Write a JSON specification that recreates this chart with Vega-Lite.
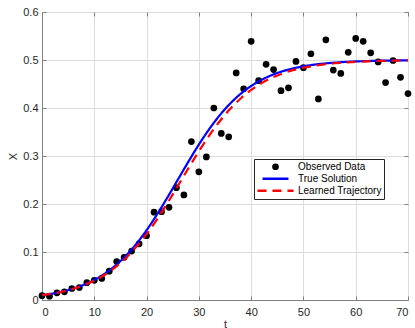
{
  "$schema": "https://vega.github.io/schema/vega-lite/v6.json",
  "width": 366,
  "height": 288,
  "autosize": {"type": "none"},
  "padding": {"left": 42, "top": 12, "right": 7, "bottom": 28},
  "background": "white",
  "config": {
    "font": "Liberation Sans",
    "view": {"stroke": "#808080", "strokeWidth": 1},
    "axis": {"labelFont": "Liberation Sans", "titleFont": "Liberation Sans"}
  },
  "datasets": {
    "obs": [
      {"t": 0, "x": 0.009, "series": "Observed Data"},
      {"t": 1.43, "x": 0.008, "series": "Observed Data"},
      {"t": 2.86, "x": 0.015, "series": "Observed Data"},
      {"t": 4.29, "x": 0.017, "series": "Observed Data"},
      {"t": 5.71, "x": 0.024, "series": "Observed Data"},
      {"t": 7.14, "x": 0.026, "series": "Observed Data"},
      {"t": 8.57, "x": 0.036, "series": "Observed Data"},
      {"t": 10, "x": 0.041, "series": "Observed Data"},
      {"t": 11.43, "x": 0.045, "series": "Observed Data"},
      {"t": 12.86, "x": 0.06, "series": "Observed Data"},
      {"t": 14.29, "x": 0.08, "series": "Observed Data"},
      {"t": 15.71, "x": 0.089, "series": "Observed Data"},
      {"t": 17.14, "x": 0.102, "series": "Observed Data"},
      {"t": 18.57, "x": 0.117, "series": "Observed Data"},
      {"t": 20, "x": 0.134, "series": "Observed Data"},
      {"t": 21.43, "x": 0.183, "series": "Observed Data"},
      {"t": 22.86, "x": 0.184, "series": "Observed Data"},
      {"t": 24.29, "x": 0.193, "series": "Observed Data"},
      {"t": 25.71, "x": 0.234, "series": "Observed Data"},
      {"t": 27.14, "x": 0.219, "series": "Observed Data"},
      {"t": 28.57, "x": 0.33, "series": "Observed Data"},
      {"t": 30, "x": 0.267, "series": "Observed Data"},
      {"t": 31.43, "x": 0.298, "series": "Observed Data"},
      {"t": 32.86, "x": 0.4, "series": "Observed Data"},
      {"t": 34.29, "x": 0.347, "series": "Observed Data"},
      {"t": 35.71, "x": 0.34, "series": "Observed Data"},
      {"t": 37.14, "x": 0.473, "series": "Observed Data"},
      {"t": 38.57, "x": 0.44, "series": "Observed Data"},
      {"t": 40, "x": 0.539, "series": "Observed Data"},
      {"t": 41.43, "x": 0.457, "series": "Observed Data"},
      {"t": 42.86, "x": 0.491, "series": "Observed Data"},
      {"t": 44.29, "x": 0.48, "series": "Observed Data"},
      {"t": 45.71, "x": 0.436, "series": "Observed Data"},
      {"t": 47.14, "x": 0.442, "series": "Observed Data"},
      {"t": 48.57, "x": 0.497, "series": "Observed Data"},
      {"t": 50, "x": 0.484, "series": "Observed Data"},
      {"t": 51.43, "x": 0.513, "series": "Observed Data"},
      {"t": 52.86, "x": 0.419, "series": "Observed Data"},
      {"t": 54.29, "x": 0.542, "series": "Observed Data"},
      {"t": 55.71, "x": 0.479, "series": "Observed Data"},
      {"t": 57.14, "x": 0.472, "series": "Observed Data"},
      {"t": 58.57, "x": 0.516, "series": "Observed Data"},
      {"t": 60, "x": 0.545, "series": "Observed Data"},
      {"t": 61.43, "x": 0.539, "series": "Observed Data"},
      {"t": 62.86, "x": 0.515, "series": "Observed Data"},
      {"t": 64.29, "x": 0.496, "series": "Observed Data"},
      {"t": 65.71, "x": 0.453, "series": "Observed Data"},
      {"t": 67.14, "x": 0.499, "series": "Observed Data"},
      {"t": 68.57, "x": 0.464, "series": "Observed Data"},
      {"t": 70, "x": 0.43, "series": "Observed Data"}
    ],
    "truth": [
      {"t": 0, "x": 0.01, "series": "True Solution"},
      {"t": 2, "x": 0.01341, "series": "True Solution"},
      {"t": 4, "x": 0.01793, "series": "True Solution"},
      {"t": 6, "x": 0.0239, "series": "True Solution"},
      {"t": 8, "x": 0.03173, "series": "True Solution"},
      {"t": 10, "x": 0.04191, "series": "True Solution"},
      {"t": 12, "x": 0.05495, "series": "True Solution"},
      {"t": 14, "x": 0.07142, "series": "True Solution"},
      {"t": 16, "x": 0.09183, "series": "True Solution"},
      {"t": 18, "x": 0.1165, "series": "True Solution"},
      {"t": 20, "x": 0.1454, "series": "True Solution"},
      {"t": 22, "x": 0.1781, "series": "True Solution"},
      {"t": 24, "x": 0.2138, "series": "True Solution"},
      {"t": 26, "x": 0.251, "series": "True Solution"},
      {"t": 28, "x": 0.2882, "series": "True Solution"},
      {"t": 30, "x": 0.3238, "series": "True Solution"},
      {"t": 32, "x": 0.3563, "series": "True Solution"},
      {"t": 34, "x": 0.385, "series": "True Solution"},
      {"t": 36, "x": 0.4094, "series": "True Solution"},
      {"t": 38, "x": 0.4296, "series": "True Solution"},
      {"t": 40, "x": 0.4458, "series": "True Solution"},
      {"t": 42, "x": 0.4587, "series": "True Solution"},
      {"t": 44, "x": 0.4688, "series": "True Solution"},
      {"t": 46, "x": 0.4765, "series": "True Solution"},
      {"t": 48, "x": 0.4824, "series": "True Solution"},
      {"t": 50, "x": 0.4868, "series": "True Solution"},
      {"t": 52, "x": 0.4902, "series": "True Solution"},
      {"t": 54, "x": 0.4927, "series": "True Solution"},
      {"t": 56, "x": 0.4945, "series": "True Solution"},
      {"t": 58, "x": 0.496, "series": "True Solution"},
      {"t": 60, "x": 0.497, "series": "True Solution"},
      {"t": 62, "x": 0.4978, "series": "True Solution"},
      {"t": 64, "x": 0.4983, "series": "True Solution"},
      {"t": 66, "x": 0.4988, "series": "True Solution"},
      {"t": 68, "x": 0.4991, "series": "True Solution"},
      {"t": 70, "x": 0.4993, "series": "True Solution"}
    ],
    "learned": [
      {"t": 0, "x": 0.01, "series": "Learned Trajectory"},
      {"t": 2, "x": 0.0133, "series": "Learned Trajectory"},
      {"t": 4, "x": 0.01765, "series": "Learned Trajectory"},
      {"t": 6, "x": 0.02336, "series": "Learned Trajectory"},
      {"t": 8, "x": 0.03079, "series": "Learned Trajectory"},
      {"t": 10, "x": 0.04039, "series": "Learned Trajectory"},
      {"t": 12, "x": 0.05265, "series": "Learned Trajectory"},
      {"t": 14, "x": 0.06807, "series": "Learned Trajectory"},
      {"t": 16, "x": 0.08712, "series": "Learned Trajectory"},
      {"t": 18, "x": 0.1102, "series": "Learned Trajectory"},
      {"t": 20, "x": 0.1373, "series": "Learned Trajectory"},
      {"t": 22, "x": 0.1681, "series": "Learned Trajectory"},
      {"t": 24, "x": 0.2021, "series": "Learned Trajectory"},
      {"t": 26, "x": 0.238, "series": "Learned Trajectory"},
      {"t": 28, "x": 0.2745, "series": "Learned Trajectory"},
      {"t": 30, "x": 0.3098, "series": "Learned Trajectory"},
      {"t": 32, "x": 0.3429, "series": "Learned Trajectory"},
      {"t": 34, "x": 0.3725, "series": "Learned Trajectory"},
      {"t": 36, "x": 0.3982, "series": "Learned Trajectory"},
      {"t": 38, "x": 0.4199, "series": "Learned Trajectory"},
      {"t": 40, "x": 0.4376, "series": "Learned Trajectory"},
      {"t": 42, "x": 0.4519, "series": "Learned Trajectory"},
      {"t": 44, "x": 0.4632, "series": "Learned Trajectory"},
      {"t": 46, "x": 0.472, "series": "Learned Trajectory"},
      {"t": 48, "x": 0.4788, "series": "Learned Trajectory"},
      {"t": 50, "x": 0.484, "series": "Learned Trajectory"},
      {"t": 52, "x": 0.4879, "series": "Learned Trajectory"},
      {"t": 54, "x": 0.4909, "series": "Learned Trajectory"},
      {"t": 56, "x": 0.4932, "series": "Learned Trajectory"},
      {"t": 58, "x": 0.4949, "series": "Learned Trajectory"},
      {"t": 60, "x": 0.4962, "series": "Learned Trajectory"},
      {"t": 62, "x": 0.4971, "series": "Learned Trajectory"},
      {"t": 64, "x": 0.4979, "series": "Learned Trajectory"},
      {"t": 66, "x": 0.4984, "series": "Learned Trajectory"},
      {"t": 68, "x": 0.4988, "series": "Learned Trajectory"},
      {"t": 70, "x": 0.4991, "series": "Learned Trajectory"}
    ]
  },
  "layer": [
    {
      "data": {"name": "obs"},
      "mark": {"type": "point", "filled": true, "opacity": 1},
      "encoding": {
        "x": {
          "field": "t", "type": "quantitative",
          "scale": {"domain": [0, 70], "nice": false, "zero": false},
          "axis": {
            "orient": "bottom", "values": [0, 10, 20, 30, 40, 50, 60, 70], "format": "d",
            "grid": true, "gridColor": "#dcdcdc", "gridWidth": 1,
            "tickSize": -4, "tickColor": "#808080", "domainColor": "#808080",
            "labelColor": "#262626", "labelFontSize": 11, "labelPadding": 10,
            "title": "t", "titleFontSize": 11, "titleFontWeight": "normal", "titleColor": "#262626", "titlePadding": 1
          }
        },
        "y": {
          "field": "x", "type": "quantitative",
          "scale": {"domain": [0, 0.6], "nice": false},
          "axis": {
            "orient": "left", "values": [0, 0.1, 0.2, 0.3, 0.4, 0.5, 0.6],
            "labelExpr": "datum.value == 0 ? '0' : format(datum.value, '.1f')",
            "grid": true, "gridColor": "#dcdcdc", "gridWidth": 1,
            "tickSize": -4, "tickColor": "#808080", "domainColor": "#808080",
            "labelColor": "#262626", "labelFontSize": 11, "labelPadding": 8,
            "title": "X", "titleFontSize": 11, "titleFontWeight": "normal", "titleColor": "#262626", "titlePadding": 4
          }
        },
        "fill": {
          "field": "series", "type": "nominal",
          "scale": {"domain": ["Observed Data", "True Solution", "Learned Trajectory"], "range": ["#000000", "#0000ff", "#ff0000"]},
          "legend": {
            "orient": "none", "legendX": 212, "legendY": 147, "title": null, "direction": "vertical",
            "fillColor": "white", "strokeColor": "#262626", "padding": 2,
            "labelFontSize": 10, "labelColor": "#000000", "labelOffset": 3, "labelFont": "Liberation Sans",
            "clipHeight": 11.5, "rowPadding": 0, "symbolStrokeWidth": 2.5, "symbolOpacity": 1
          }
        },
        "size": {
          "field": "series", "type": "nominal",
          "scale": {"domain": ["Observed Data", "True Solution", "Learned Trajectory"], "range": [45, 1300, 1300]},
          "legend": {"orient": "none", "legendX": 212, "legendY": 147, "title": null}
        },
        "shape": {
          "field": "series", "type": "nominal",
          "scale": {"domain": ["Observed Data", "True Solution", "Learned Trajectory"], "range": ["circle", "stroke", "stroke"]},
          "legend": {"orient": "none", "legendX": 212, "legendY": 147, "title": null}
        }
      }
    },
    {
      "data": {"name": "truth"},
      "mark": {"type": "line", "strokeWidth": 2.2, "interpolate": "monotone"},
      "encoding": {
        "x": {"field": "t", "type": "quantitative", "axis": null},
        "y": {"field": "x", "type": "quantitative", "axis": null},
        "stroke": {
          "field": "series", "type": "nominal",
          "scale": {"domain": ["Observed Data", "True Solution", "Learned Trajectory"], "range": ["transparent", "#0000ff", "#ff0000"]},
          "legend": {"orient": "none", "legendX": 212, "legendY": 147, "title": null}
        },
        "strokeDash": {
          "field": "series", "type": "nominal",
          "scale": {"domain": ["Observed Data", "True Solution", "Learned Trajectory"], "range": [[1, 0], [1, 0], [9, 6]]},
          "legend": {"orient": "none", "legendX": 212, "legendY": 147, "title": null}
        }
      }
    },
    {
      "data": {"name": "learned"},
      "mark": {"type": "line", "strokeWidth": 2.2, "interpolate": "monotone"},
      "encoding": {
        "x": {"field": "t", "type": "quantitative", "axis": {"orient": "top", "values": [0, 10, 20, 30, 40, 50, 60, 70], "labels": false, "grid": false, "domain": false, "tickSize": -4, "tickColor": "#808080", "title": null}},
        "y": {"field": "x", "type": "quantitative", "axis": {"orient": "right", "values": [0, 0.1, 0.2, 0.3, 0.4, 0.5, 0.6], "labels": false, "grid": false, "domain": false, "tickSize": -4, "tickColor": "#808080", "title": null}},
        "stroke": {"field": "series", "type": "nominal"},
        "strokeDash": {"field": "series", "type": "nominal"}
      }
    }
  ],
  "resolve": {"axis": {"x": "independent", "y": "independent"}}
}
